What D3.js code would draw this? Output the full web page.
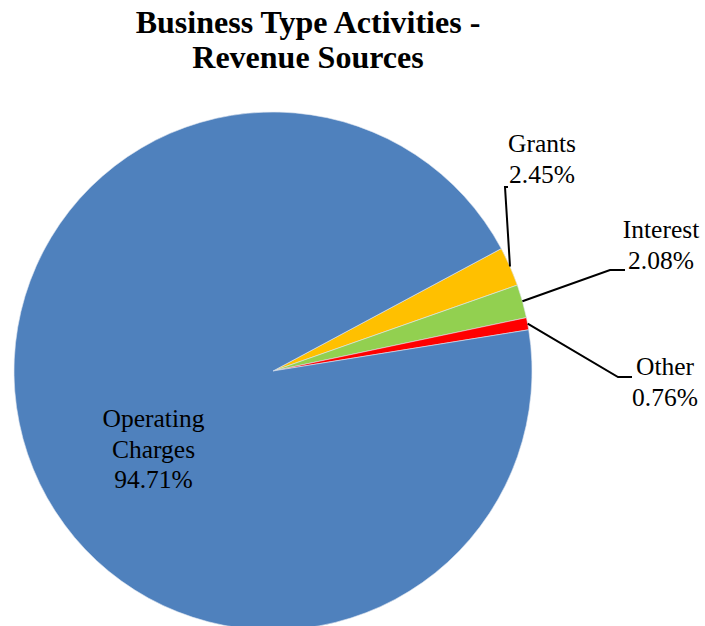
<!DOCTYPE html>
<html>
<head>
<meta charset="utf-8">
<script src="https://cdn.jsdelivr.net/npm/d3@7"></script>
<style>
  body { margin: 0; background: #fff; }
  text { font-family: "Liberation Serif", "Times New Roman", serif; fill: #000; }
</style>
</head>
<body>
<svg id="chart"></svg>
<script>
// chart data
var categories = ["Grants", "Interest", "Other", "Operating Charges"];
var values = [2.45, 2.08, 0.76, 94.71];
var labelText = ["2.45%", "2.08%", "0.76%", "94.71%"];
var colors = ["#FFC000", "#92D050", "#FF0000", "#4F81BD"];
var titleLines = ["Business Type Activities -", "Revenue Sources"];

var width = 705, height = 626;
var cx = 273, cy = 371, radius = 259;
var startDeg = 61.8;

var svg = d3.select("#chart")
    .attr("width", width)
    .attr("height", height);

// title
svg.selectAll(".title")
    .data(titleLines)
    .enter().append("text")
    .attr("class", "title")
    .attr("x", 308)
    .attr("y", (d, i) => 33 + i * 35)
    .attr("text-anchor", "middle")
    .style("font-size", "32px")
    .style("font-weight", "bold")
    .text(d => d);

var pie = d3.pie()
    .sort(null)
    .value(d => d)
    .startAngle(startDeg * Math.PI / 180)
    .endAngle(startDeg * Math.PI / 180 + 2 * Math.PI);

var arc = d3.arc().innerRadius(0).outerRadius(radius);
var edge = d3.arc().innerRadius(radius).outerRadius(radius);

var g = svg.append("g").attr("transform", "translate(" + cx + "," + cy + ")");
var arcs = pie(values);

g.selectAll("path.slice")
    .data(arcs)
    .enter().append("path")
    .attr("class", "slice")
    .attr("d", arc)
    .attr("fill", (d, i) => colors[i])
    .attr("stroke", "#dfe6f0")
    .attr("stroke-width", 0.6);

// label layout, relative to the pie centre: [text centre x, first baseline y, leader elbow x, elbow y, leader end x]
var layout = [
    [269, -219, 232, -184, 235],
    [388, -133, 337, -101, 352],
    [392, 4, 345, 6, 359],
    [-119.5, 56, null, null, null]
];

arcs.forEach(function(d, i) {
    var L = layout[i];
    var lines = i === 3 ? ["Operating", "Charges", labelText[i]] : [categories[i], labelText[i]];
    var t = g.append("text")
        .attr("text-anchor", "middle")
        .style("font-size", "25.5px");
    lines.forEach(function(s, k) {
        t.append("tspan")
            .attr("x", L[0])
            .attr("y", L[1] + k * 30.5)
            .text(s);
    });
    if (L[2] !== null) {
        var p = edge.centroid(d);
        g.append("polyline")
            .attr("points", [p, [L[2], L[3]], [L[4], L[3]]].map(q => q.join(",")).join(" "))
            .attr("fill", "none")
            .attr("stroke", "#000")
            .attr("stroke-width", 2);
    }
});
</script>
</body>
</html>
